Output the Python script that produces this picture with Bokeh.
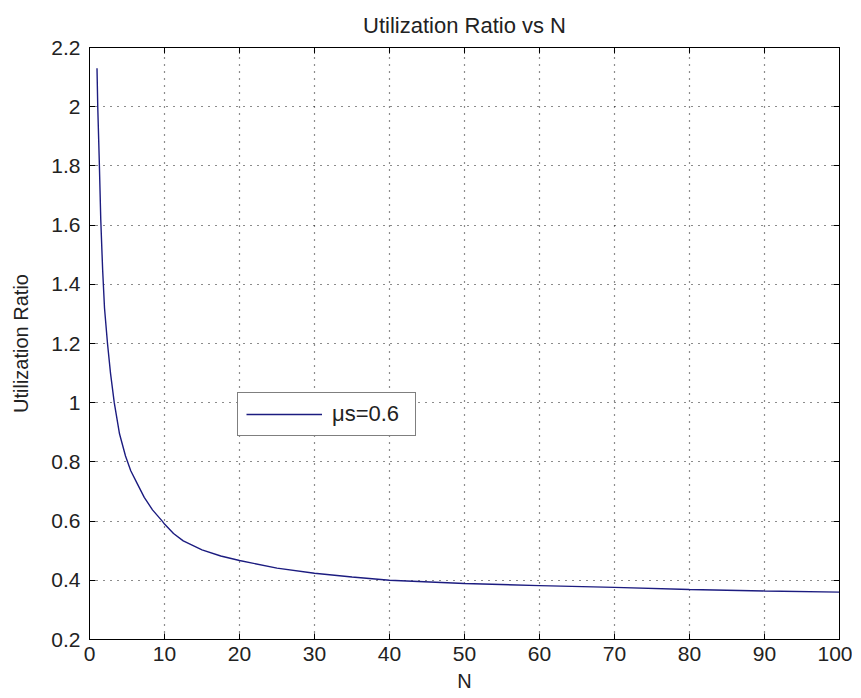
from bokeh.plotting import figure
from bokeh.models import (Range1d, LinearAxis, FixedTicker, NumeralTickFormatter, Legend,
                          LegendItem, CustomJSTickFormatter)
from bokeh.embed import file_html
from bokeh.resources import INLINE

# Data
n_values = [1.0, 1.1, 1.3, 1.5, 1.75, 2.0, 2.4, 2.8, 3.3, 4.0, 4.8, 5.5, 6.4, 7.3, 8.4,
            9.7, 10.0, 11.2, 12.5, 15.0, 17.5, 20.0, 25.0, 30.0, 35.0, 40.0, 50.0, 60.0, 70.0, 80.0, 90.0, 100.0]
utilization = [2.13, 2.0, 1.82, 1.62, 1.45, 1.32, 1.2, 1.1, 1.0, 0.895, 0.82, 0.77, 0.725, 0.68, 0.638,
               0.6, 0.59, 0.558, 0.533, 0.503, 0.482, 0.467, 0.441, 0.424, 0.411, 0.40, 0.389, 0.382,
               0.376, 0.369, 0.364, 0.36]
series_label = "\u03bcs=0.6"
x_ticks = [0, 10, 20, 30, 40, 50, 60, 70, 80, 90, 100]
y_ticks = [0.2, 0.4, 0.6, 0.8, 1.0, 1.2, 1.4, 1.6, 1.8, 2.0, 2.2]

FONT = "Liberation Sans"
TXT = "#222222"

p = figure(width=852, height=696, output_backend="svg", toolbar_location=None,
           x_range=Range1d(0, 100), y_range=Range1d(0.2, 2.2),
           min_border_left=89, min_border_right=13, min_border_top=47, min_border_bottom=57)
p.background_fill_color = "white"
p.border_fill_color = "white"
p.outline_line_color = "black"
p.outline_line_width = 1

p.title.text = "Utilization Ratio vs N"
p.title.align = "center"
p.title.text_font = FONT
p.title.text_font_size = "22px"
p.title.text_font_style = "normal"
p.title.text_color = TXT
p.title.text_line_height = 1.0
p.title.standoff = 19

p.xaxis.axis_label = "N"
p.yaxis.axis_label = "Utilization Ratio"

for ax in [p.xaxis[0], p.yaxis[0]]:
    ax.axis_label_text_font = FONT
    ax.axis_label_text_font_size = "20px"
    ax.axis_label_text_font_style = "normal"
    ax.axis_label_text_color = TXT
    ax.major_label_text_font = FONT
    ax.major_label_text_font_size = "21px"
    ax.major_label_text_color = TXT
    ax.major_tick_in = 6
    ax.major_tick_out = 0
    ax.minor_tick_line_color = None
    ax.axis_line_color = "black"
    ax.major_tick_line_color = "black"

p.xaxis.ticker = FixedTicker(ticks=x_ticks)
p.yaxis.ticker = FixedTicker(ticks=y_ticks)
p.yaxis.formatter = NumeralTickFormatter(format="0.[0]")
p.xaxis.major_label_standoff = 7
p.yaxis.major_label_standoff = 9
p.xaxis.axis_label_standoff = 6
p.yaxis.axis_label_standoff = 16

# box ticks on top and right (no labels)
blank = CustomJSTickFormatter(code="return ''")
top_ax = LinearAxis(ticker=FixedTicker(ticks=x_ticks), formatter=blank,
                    major_tick_in=6, major_tick_out=0, minor_tick_line_color=None,
                    axis_line_color="black", major_tick_line_color="black", major_label_standoff=0)
right_ax = LinearAxis(ticker=FixedTicker(ticks=y_ticks), formatter=blank,
                      major_tick_in=6, major_tick_out=0, minor_tick_line_color=None,
                      axis_line_color="black", major_tick_line_color="black", major_label_standoff=0)
p.add_layout(top_ax, "above")
p.add_layout(right_ax, "right")

p.xgrid.ticker = FixedTicker(ticks=x_ticks)
p.ygrid.ticker = FixedTicker(ticks=y_ticks)
for g in [p.xgrid[0], p.ygrid[0]]:
    g.grid_line_color = "black"
    g.grid_line_dash = "1 6"
    g.grid_line_width = 1.2
    g.grid_line_alpha = 0.9

r = p.line(n_values, utilization, line_color="#1c1c80", line_width=1.4)

legend = Legend(items=[LegendItem(label=series_label, renderers=[r])],
                location=(148, 203), orientation="vertical")
legend.border_line_color = "black"
legend.border_line_width = 1
legend.background_fill_color = "white"
legend.background_fill_alpha = 1
legend.label_text_font = FONT
legend.label_text_font_size = "22px"
legend.label_text_color = TXT
legend.glyph_width = 76
legend.glyph_height = 18
legend.label_standoff = 10
legend.label_width = 75
legend.padding = 8
legend.margin = 0
legend.spacing = 0
p.add_layout(legend, "center")

open("out.html", "w").write(file_html(p, INLINE))
